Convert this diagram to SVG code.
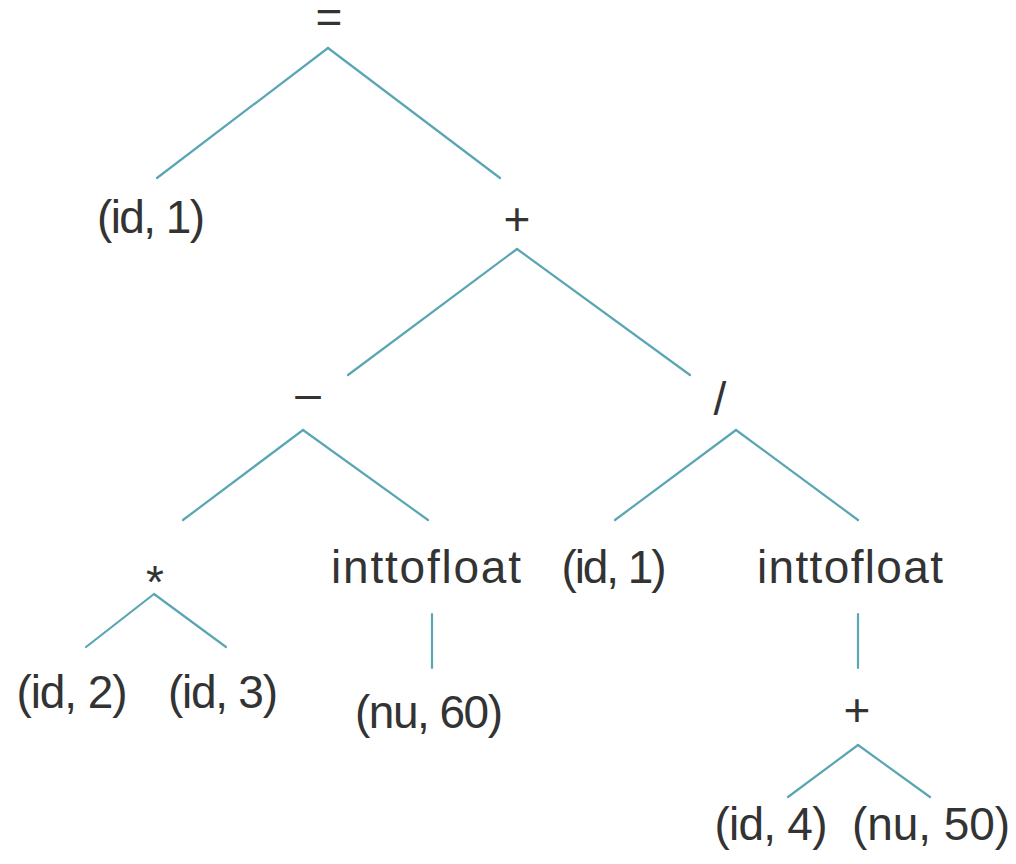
<svg xmlns="http://www.w3.org/2000/svg" width="1016" height="864" viewBox="0 0 1016 864">
<style>
  .edge { stroke: #5aa6b4; stroke-width: 2.2; fill: none; stroke-linecap: round; }
  .lbl { font-family: "Liberation Sans", Arial, sans-serif; font-size: 46px; fill: #333333; text-anchor: middle; }
</style>
<rect width="1016" height="864" fill="#ffffff"/>
<g id="connectors">
  <line class="edge" x1="328" y1="48" x2="157" y2="178"/>
  <line class="edge" x1="328" y1="48" x2="500" y2="178"/>
  <line class="edge" x1="517" y1="249" x2="348" y2="375"/>
  <line class="edge" x1="517" y1="249" x2="690" y2="375"/>
  <line class="edge" x1="303" y1="430" x2="183" y2="520"/>
  <line class="edge" x1="303" y1="430" x2="428" y2="520"/>
  <line class="edge" x1="736" y1="430" x2="615" y2="520"/>
  <line class="edge" x1="736" y1="430" x2="858" y2="520"/>
  <line class="edge" x1="154" y1="594" x2="86" y2="647"/>
  <line class="edge" x1="154" y1="594" x2="226" y2="647"/>
  <line class="edge" x1="432" y1="614" x2="432" y2="668"/>
  <line class="edge" x1="858" y1="614" x2="858" y2="668"/>
  <line class="edge" x1="858" y1="745" x2="788" y2="797"/>
  <line class="edge" x1="858" y1="745" x2="930" y2="797"/>
</g>
<g id="n-assign"><text class="lbl" x="329" y="33">=</text></g>
<g id="n-id1a"><text class="lbl" x="151" y="233" textLength="108">(id, 1)</text></g>
<g id="n-plus1"><text class="lbl" x="517" y="235">+</text></g>
<g id="n-minus"><text class="lbl" x="308" y="409">–</text></g>
<g id="n-div"><text class="lbl" x="720" y="415">/</text></g>
<g id="n-mul"><text class="lbl" x="155" y="598">*</text></g>
<g id="n-itf1"><text class="lbl" x="426" y="583" textLength="190">inttofloat</text></g>
<g id="n-id1b"><text class="lbl" x="614" y="583" textLength="105">(id, 1)</text></g>
<g id="n-itf2"><text class="lbl" x="850" y="583" textLength="186">inttofloat</text></g>
<g id="n-id2"><text class="lbl" x="72" y="708" textLength="111">(id, 2)</text></g>
<g id="n-id3"><text class="lbl" x="223" y="708" textLength="110">(id, 3)</text></g>
<g id="n-nu60"><text class="lbl" x="429" y="728" textLength="148">(nu, 60)</text></g>
<g id="n-plus2"><text class="lbl" x="857" y="726">+</text></g>
<g id="n-id4"><text class="lbl" x="771" y="840" textLength="113">(id, 4)</text></g>
<g id="n-nu50"><text class="lbl" x="931" y="840" textLength="158">(nu, 50)</text></g>
</svg>
